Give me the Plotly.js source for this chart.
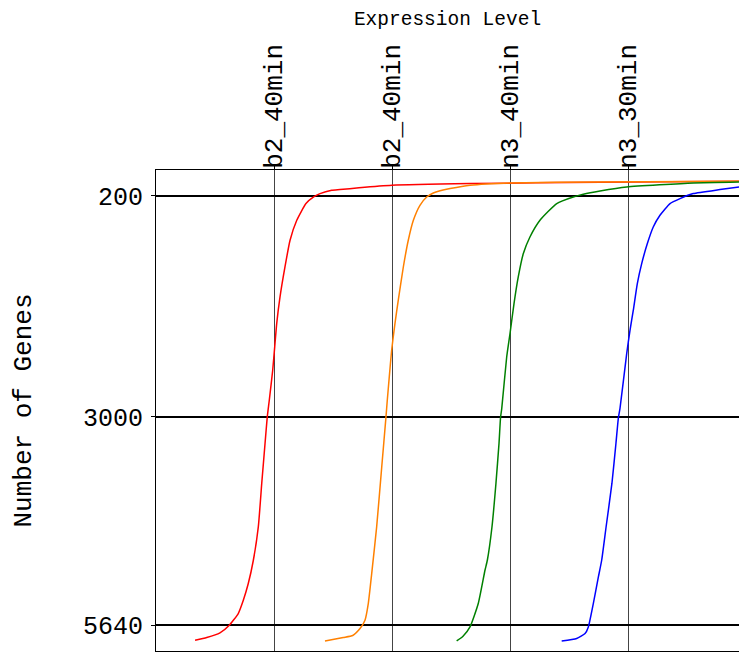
<!DOCTYPE html>
<html>
<head>
<meta charset="utf-8">
<script src="https://cdn.plot.ly/plotly-3.0.1.min.js"></script>
<style>
  html, body { margin: 0; padding: 0; background: #fff; overflow: hidden; }
  #chart { width: 739px; height: 652px; }
</style>
</head>
<body>
<div id="chart"></div>
<script>
// Sample markers along the expression axis
const sampleTickVals = [1, 2, 3, 4];
const sampleTickText = ['b2_40min', 'b2_40min', 'n3_40min', 'n3_30min'];

// Gene-count ticks
const geneTickVals = [200, 3000, 5640];
const geneTickText = ['200', '3000', '5640'];

// Series 1 (red)
const redX = [0.331, 0.430, 0.542, 0.621, 0.697, 0.740, 0.782, 0.825, 0.867, 0.896, 0.924, 0.943, 0.960, 0.989, 1.006, 1.023, 1.051, 1.093, 1.136, 1.193, 1.271, 1.336, 1.390, 1.489, 1.559, 1.720, 2.000, 2.661, 3.763, 4.941];
const redY = [5830, 5796, 5737, 5640, 5491, 5323, 5111, 4816, 4394, 3844, 3337, 3000, 2789, 2409, 2113, 1817, 1480, 1100, 761, 508, 296, 213, 170, 128, 119, 96, 64, 43, 26, 14];

// Series 2 (orange)
const orangeX = [1.432, 1.587, 1.667, 1.729, 1.771, 1.799, 1.828, 1.870, 1.913, 1.949, 1.960, 1.977, 1.997, 2.025, 2.053, 2.096, 2.138, 2.181, 2.237, 2.294, 2.350, 2.407, 2.492, 2.661, 3.000, 3.763, 4.941];
const orangeY = [5839, 5796, 5770, 5682, 5576, 5365, 4985, 4394, 3634, 3000, 2789, 2493, 2155, 1817, 1522, 1100, 761, 508, 318, 213, 162, 134, 106, 64, 35, 23, 14];

// Series 3 (green)
const greenX = [2.548, 2.602, 2.661, 2.731, 2.788, 2.808, 2.847, 2.881, 2.907, 2.920, 2.930, 2.972, 3.000, 3.034, 3.070, 3.113, 3.169, 3.254, 3.396, 3.536, 3.621, 3.763, 3.989, 4.553, 4.941];
const greenY = [5839, 5779, 5661, 5365, 4943, 4816, 4398, 3840, 3333, 3004, 2894, 2240, 1944, 1563, 1226, 930, 720, 508, 296, 213, 178, 137, 86, 35, 23];

// Series 4 (blue)
const blueX = [3.438, 3.565, 3.636, 3.664, 3.706, 3.749, 3.777, 3.814, 3.864, 3.898, 3.919, 3.932, 3.989, 4.017, 4.045, 4.079, 4.116, 4.164, 4.214, 4.271, 4.356, 4.441, 4.553, 4.780, 4.941];
const blueY = [5839, 5808, 5745, 5661, 5365, 5028, 4816, 4398, 3840, 3333, 3004, 2894, 2197, 1902, 1648, 1310, 1057, 803, 593, 445, 296, 233, 170, 119, 86];

const seriesList = [
  { x: redX, y: redY, color: '#ff0000' },
  { x: orangeX, y: orangeY, color: '#ff8000' },
  { x: greenX, y: greenY, color: '#008000' },
  { x: blueX, y: blueY, color: '#0000ff' }
];

const traces = seriesList.map(s => ({
  type: 'scatter',
  mode: 'lines',
  x: s.x,
  y: s.y,
  line: { color: s.color, width: 1.5, shape: 'spline', smoothing: 0.5 },
  hoverinfo: 'skip',
  showlegend: false
}));

const monoFont = 'Liberation Mono, Courier New, monospace';

const layout = {
  width: 739,
  height: 652,
  margin: { l: 156, r: 0, t: 170, b: 1, pad: 0 },
  paper_bgcolor: '#ffffff',
  plot_bgcolor: '#ffffff',
  showlegend: false,
  xaxis: {
    side: 'top',
    range: [0, 4.9407],
    tickmode: 'array',
    tickvals: sampleTickVals,
    ticktext: sampleTickText,
    tickangle: -90,
    ticks: 'outside',
    ticklen: 4,
    tickcolor: '#000',
    tickfont: { family: monoFont, size: 26, color: '#000' },
    ticklabelstandoff: -9,
    showgrid: true,
    gridcolor: '#444444',
    gridwidth: 1,
    zeroline: false,
    showline: true,
    mirror: true,
    linecolor: '#000',
    linewidth: 1,
    automargin: false,
    title: { text: 'Expression Level', font: { family: monoFont, size: 19.5, color: '#000' }, standoff: 13 }
  },
  yaxis: {
    range: [5966, -129],
    tickmode: 'array',
    tickvals: geneTickVals,
    ticktext: geneTickText,
    ticks: 'outside',
    ticklen: 4,
    tickcolor: '#000',
    tickfont: { family: monoFont, size: 25, color: '#000' },
    ticklabelstandoff: 3,
    showgrid: true,
    gridcolor: '#000000',
    gridwidth: 2,
    zeroline: false,
    showline: true,
    linecolor: '#000',
    linewidth: 1,
    automargin: false,
    title: { text: 'Number of Genes', font: { family: monoFont, size: 26, color: '#000' }, standoff: 43 }
  }
};

Plotly.newPlot('chart', traces, layout, { displayModeBar: false, staticPlot: true });
</script>
</body>
</html>
